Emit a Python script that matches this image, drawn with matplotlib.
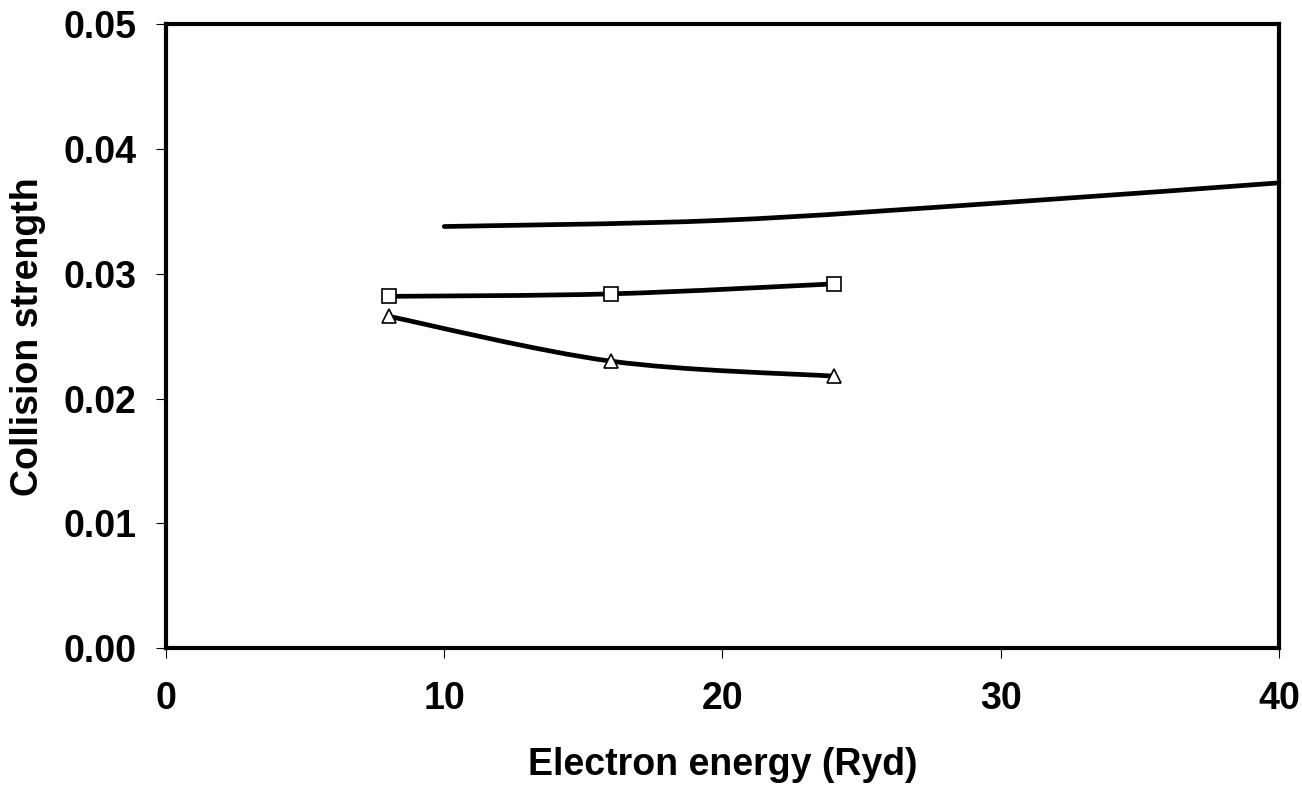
import numpy as np
import matplotlib
matplotlib.use("Agg")
import matplotlib.pyplot as plt
from matplotlib.path import Path
from matplotlib.patches import PathPatch

plt.rcParams['font.family'] = ['Liberation Sans', 'DejaVu Sans']
plt.rcParams['font.weight'] = 'bold'

# data
energy_line = [10, 20, 30, 40]
strength_line = [0.0338, 0.0343, 0.0357, 0.0373]

energy_sq = [8, 16, 24]
strength_sq = [0.0282, 0.0284, 0.0292]

energy_tri = [8, 16, 24]
strength_tri = [0.0266, 0.0230, 0.0218]

x_ticks = [0, 10, 20, 30, 40]
y_ticks = [0.00, 0.01, 0.02, 0.03, 0.04, 0.05]


def smooth_path(xs, ys, tension=1/6):
    # Catmull-Rom style bezier, similar to a spreadsheet "smoothed line"
    pts = np.column_stack([xs, ys]).astype(float)
    verts = [pts[0]]
    codes = [Path.MOVETO]
    n = len(pts)
    for i in range(n - 1):
        p0 = pts[i - 1] if i > 0 else pts[i]
        p1 = pts[i]
        p2 = pts[i + 1]
        p3 = pts[i + 2] if i + 2 < n else pts[i + 1]
        c1 = p1 + (p2 - p0) * tension
        c2 = p2 - (p3 - p1) * tension
        verts += [c1, c2, p2]
        codes += [Path.CURVE4] * 3
    return Path(verts, codes)


def draw_smooth(ax, xs, ys, lw=3.4):
    patch = PathPatch(smooth_path(xs, ys), facecolor='none', edgecolor='black',
                      lw=lw, capstyle='round', joinstyle='round', zorder=3,
                      clip_on=False)
    ax.add_patch(patch)


fig = plt.figure(figsize=(13.02, 7.85), dpi=100)
ax = fig.add_axes([0.1275, 0.1745, 0.8548, 0.7943])

draw_smooth(ax, energy_line, strength_line)
draw_smooth(ax, energy_sq, strength_sq)
draw_smooth(ax, energy_tri, strength_tri)

ax.plot(energy_sq, strength_sq, linestyle='none', marker='s', markersize=9.5,
        markerfacecolor='white', markeredgecolor='black', markeredgewidth=1.2, zorder=4)
ax.plot(energy_tri, strength_tri, linestyle='none', marker='^', markersize=10.5,
        markerfacecolor='white', markeredgecolor='black', markeredgewidth=1.2, zorder=4)

ax.set_xlim(0, 40)
ax.set_ylim(0, 0.05)
ax.set_xticks(x_ticks)
ax.set_yticks(y_ticks)
ax.set_xticklabels([str(t) for t in x_ticks])
ax.set_yticklabels(['%.2f' % t for t in y_ticks])

for s in ax.spines.values():
    s.set_linewidth(3)
ax.tick_params(axis='x', direction='out', length=7.5, width=0.8, pad=16, labelsize=27)
ax.tick_params(axis='y', direction='out', length=7.5, width=0.8, pad=14, labelsize=27)

ax.set_xlabel('Electron energy (Ryd)', fontsize=27, fontweight='bold', labelpad=22)
ax.set_ylabel('Collision strength', fontsize=27, fontweight='bold', labelpad=12)

fig.savefig('out.png', dpi=100)
